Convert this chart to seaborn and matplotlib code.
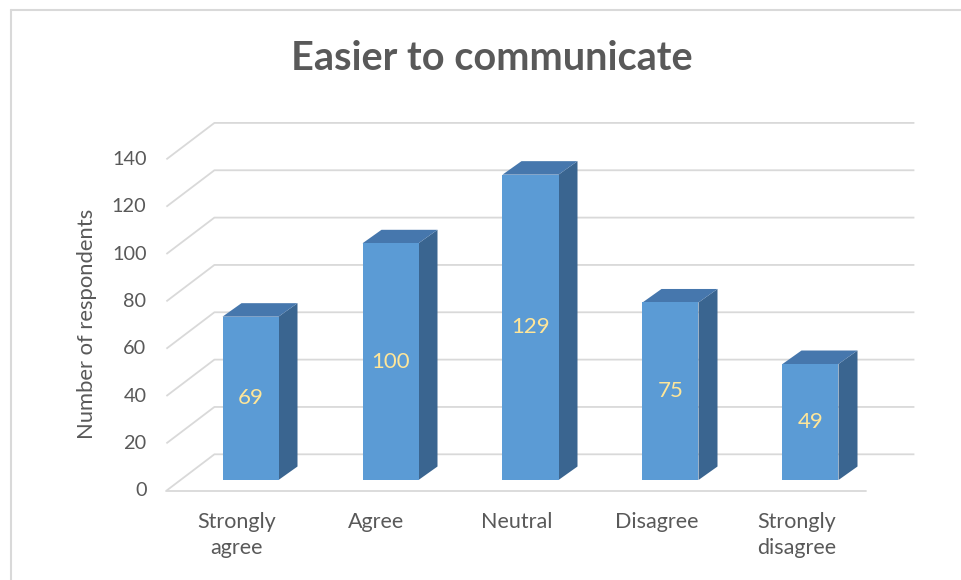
import matplotlib
matplotlib.use("Agg")
import matplotlib.pyplot as plt
from matplotlib.patches import Polygon
from matplotlib.lines import Line2D
import seaborn as sns
import pandas as pd

# Survey responses
categories = ["Strongly\nagree", "Agree", "Neutral", "Disagree", "Strongly\ndisagree"]
respondents = [69, 100, 129, 75, 49]
y_ticks = [0, 20, 40, 60, 80, 100, 120, 140]

title = "Easier to communicate"
y_label = "Number of respondents"

FRONT = "#5B9BD5"
SIDE = "#3A6590"
TOP = "#4677AD"
GRID = "#D9D9D9"
TEXT = "#595959"
VALUE_TXT = "#FFE699"

sns.set_theme(style="white")
plt.rcParams["font.family"] = ["Lato", "DejaVu Sans"]

W, H, DPI = 961, 580, 100
fig = plt.figure(figsize=(W / DPI, H / DPI), dpi=DPI)
fig.patch.set_facecolor("white")
ax = fig.add_axes([0, 0, 1, 1])

# pixel scale of the plot plane
PX_X = 140.0       # pixels per category step
PX_Y = 2.367       # pixels per respondent
X0_PX = 250.5      # pixel x of first category centre
Y0_PX = 480.0      # pixel y (from top) of the bar base


def dx(px):
    return px / PX_X


def dy(px_up):
    return px_up / PX_Y


df = pd.DataFrame({"category": categories, "count": respondents})

# front faces of the bars
sns.barplot(data=df, x="category", y="count", width=0.4, color=FRONT,
            saturation=1, linewidth=0, ax=ax, zorder=3)

ax.set_xlim(-X0_PX / PX_X, (W - X0_PX) / PX_X)
ax.set_ylim((Y0_PX - H) / PX_Y, Y0_PX / PX_Y)
ax.axis("off")

# floor / walls offsets relative to the bar plane
FRONT_OFF = (dx(-14.1), dy(-10.7))
BACK_OFF = (dx(33.9), dy(25.7))
x_left, x_right = -0.5, len(categories) - 0.5

# gridlines: left wall diagonal + back wall horizontal
for v in y_ticks:
    fx, fy = x_left + FRONT_OFF[0], v + FRONT_OFF[1]
    bx, by = x_left + BACK_OFF[0], v + BACK_OFF[1]
    ax.plot([fx, bx, x_right + BACK_OFF[0]], [fy, by, by],
            color=GRID, lw=1.3, zorder=0, solid_capstyle="butt")
    ax.text(fx - dx(20), fy, str(v), ha="right", va="center",
            fontsize=14.3, color=TEXT)

# front edge of the floor
ax.plot([x_left + FRONT_OFF[0], x_right + FRONT_OFF[0]],
        [FRONT_OFF[1], FRONT_OFF[1]], color=GRID, lw=1.3, zorder=0)

# bar depth: side and top faces
DEPTH = (dx(19), dy(13.5))
half = 0.2
for i, v in enumerate(respondents):
    x0, x1 = i - half, i + half
    side = Polygon([(x1, 0), (x1, v), (x1 + DEPTH[0], v + DEPTH[1]),
                    (x1 + DEPTH[0], DEPTH[1])], closed=True,
                   facecolor=SIDE, edgecolor="none", zorder=2)
    top = Polygon([(x0, v), (x1, v), (x1 + DEPTH[0], v + DEPTH[1]),
                   (x0 + DEPTH[0], v + DEPTH[1])], closed=True,
                  facecolor=TOP, edgecolor="none", zorder=2)
    ax.add_patch(side)
    ax.add_patch(top)
    ax.text(i, v / 2, str(v), ha="center", va="center",
            fontsize=16, color=VALUE_TXT, zorder=4)
    ax.text(i + FRONT_OFF[0], FRONT_OFF[1] - dy(21), categories[i],
            ha="center", va="top", fontsize=15.5, color=TEXT,
            linespacing=1.38)

fig.text(491.5 / W, 1 - 58 / H, title, ha="center", va="center",
         fontsize=28.5, fontweight="bold", color=TEXT)
fig.text(87 / W, 1 - 324 / H, y_label, ha="center", va="center",
         rotation=90, fontsize=15.8, color=TEXT)

# chart border (top and left edges)
fig.add_artist(Line2D([11 / W, 1], [1 - 10 / H, 1 - 10 / H],
                      transform=fig.transFigure, color=GRID, lw=1.5))
fig.add_artist(Line2D([11 / W, 11 / W], [0, 1 - 10 / H],
                      transform=fig.transFigure, color=GRID, lw=1.5))

fig.savefig("out.png", dpi=DPI)
